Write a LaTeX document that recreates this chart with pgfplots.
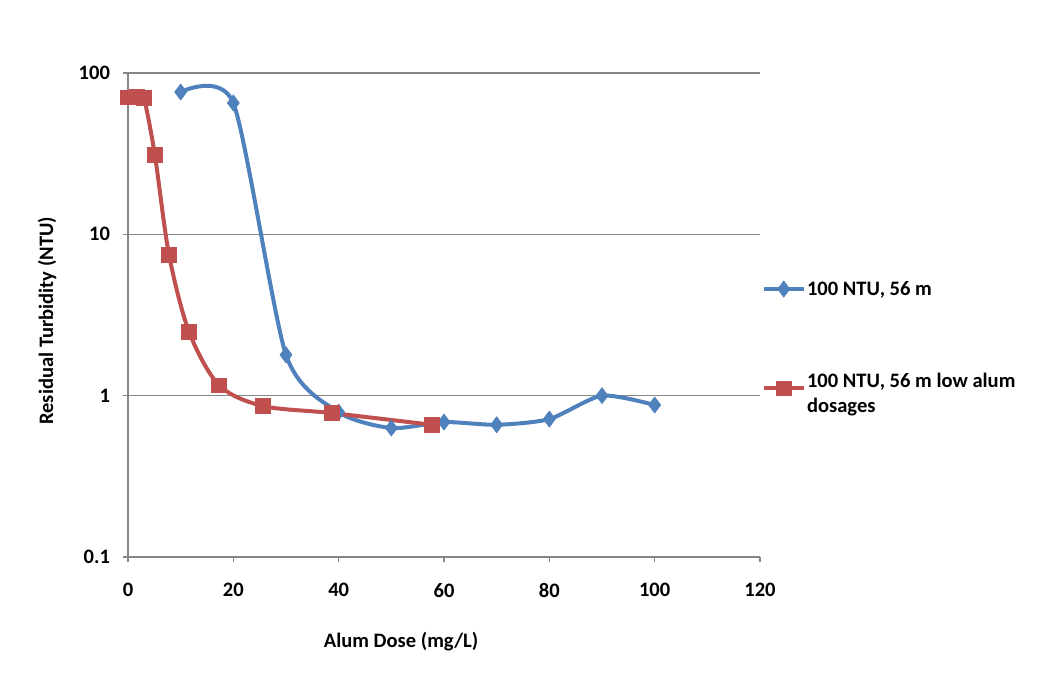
\documentclass[border=0pt]{standalone}
\usepackage{pgfplots}
\pgfplotsset{compat=1.18}
\usepackage{fontspec}
\setmainfont{Carlito}
\definecolor{xlblue}{HTML}{4F81BD}
\definecolor{xlred}{HTML}{C0504D}
\definecolor{gridgray}{HTML}{868686}
\newcommand{\cf}{\fontsize{15.4}{19}\selectfont\bfseries}
\begin{document}
\begin{tikzpicture}
\useasboundingbox (0pt,0pt) rectangle (789pt,507.75pt);
\begin{axis}[
  at={(96pt,90pt)}, anchor=south west,
  scale only axis, width=474pt, height=363pt,
  xmin=0, xmax=120, ymin=0.1, ymax=100,
  ymode=log,
  xtick={0,20,40,60,80,100,120},
  ytick={0.1,1,10,100},
  yticklabels={0.1,1,10,100},
  yminorticks=false,
  axis x line*=bottom, axis y line*=left,
  axis line style={gridgray, line width=0.8pt},
  every tick/.style={gridgray, line width=0.8pt},
  tick align=outside, major tick length=4pt,
  ymajorgrids, major grid style={gridgray, line width=0.8pt},
  /pgf/number format/assume math mode=true,
  tick label style={font=\cf, text=black},
  xticklabel style={yshift=-12pt},
  yticklabel style={xshift=-6pt},
  xlabel={Alum Dose (mg/L)}, ylabel={Residual Turbidity (NTU)},
  label style={font=\cf},
  xlabel style={at={(axis description cs:0.432,-0.174)}, anchor=center},
  ylabel style={at={(axis description cs:-0.128,0.488)}, anchor=center},
  legend style={at={(0.996,0.579)}, anchor=north west, draw=none, fill=none,
    font=\cf, row sep=62pt, nodes={inner sep=1pt}},
  legend cell align=left,
  legend image code/.code={%
    \draw[mark repeat=2, mark phase=2, #1] plot coordinates {(0pt,0pt) (15pt,0pt) (30pt,0pt)};},
  clip=false,
]
\addplot[xlblue, line width=3pt, smooth, tension=0.42, mark=diamond*, mark size=6pt,
  mark options={solid, fill=xlblue, line width=0.5pt}]
 coordinates {
 (10,76.2) (20,65.2) (30,1.79) (40,0.79) (50,0.63) (60,0.686)
 (70,0.66) (80,0.716) (90,1.0) (100,0.875)
 };
\addlegendentry{100 NTU, 56 m}
\addplot[xlred, line width=3pt, smooth, tension=0.5, mark=square*, mark size=5.5pt,
  mark options={solid, fill=xlred, line width=0.5pt}]
 coordinates {
 (0,70.5) (1.7,71) (3,70) (5.1,31) (7.8,7.44) (11.6,2.48) (17.3,1.16)
 (25.6,0.863) (38.7,0.78) (57.7,0.66)
 };
\addlegendentry{\smash{\begin{tabular}[t]{@{}l@{}}100 NTU, 56 m low alum\\[0pt]dosages\end{tabular}}}
\end{axis}
\end{tikzpicture}
\end{document}
